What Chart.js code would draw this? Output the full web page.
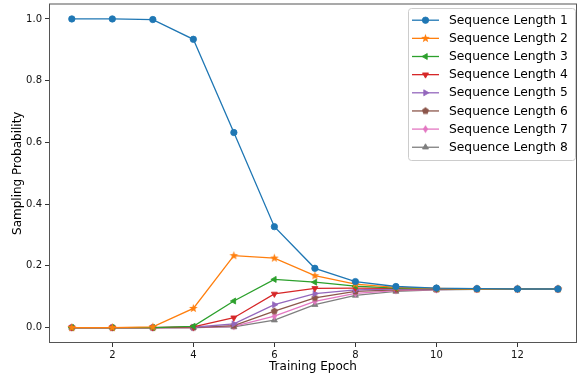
<!DOCTYPE html>
<html>
<head>
<meta charset="utf-8">
<script src="https://cdn.jsdelivr.net/npm/chart.js@4/dist/chart.umd.min.js"></script>
<style>
  html, body { margin: 0; padding: 0; background: #fff; }
  #wrap { width: 578px; height: 378px; position: relative; }
</style>
</head>
<body>
<div id="wrap"><canvas id="chart"></canvas></div>
<script>
// datos
const epochs = [1, 2, 3, 4, 5, 6, 7, 8, 9, 10, 11, 12, 13];
const seqLen1 = [1.0, 1.0, 0.998, 0.934, 0.632, 0.327, 0.192, 0.149, 0.133, 0.128, 0.126, 0.125, 0.125];
const seqLen2 = [0.0, 0.0, 0.002, 0.062, 0.233, 0.225, 0.168, 0.141, 0.130, 0.127, 0.125, 0.125, 0.125];
const seqLen3 = [0.0, 0.0, 0.0, 0.004, 0.086, 0.156, 0.147, 0.134, 0.128, 0.126, 0.125, 0.125, 0.125];
const seqLen4 = [0.0, 0.0, 0.0, 0.002, 0.032, 0.109, 0.127, 0.128, 0.127, 0.126, 0.125, 0.125, 0.125];
const seqLen5 = [0.0, 0.0, 0.0, 0.001, 0.012, 0.074, 0.110, 0.122, 0.125, 0.125, 0.125, 0.125, 0.125];
const seqLen6 = [0.0, 0.0, 0.0, 0.0, 0.006, 0.053, 0.096, 0.117, 0.122, 0.124, 0.125, 0.125, 0.125];
const seqLen7 = [0.0, 0.0, 0.0, 0.0, 0.004, 0.037, 0.085, 0.111, 0.120, 0.123, 0.125, 0.125, 0.125];
const seqLen8 = [0.0, 0.0, 0.0, 0.0, 0.002, 0.024, 0.074, 0.104, 0.117, 0.122, 0.124, 0.125, 0.125];
const seriesNames = ['Sequence Length 1', 'Sequence Length 2', 'Sequence Length 3', 'Sequence Length 4',
                     'Sequence Length 5', 'Sequence Length 6', 'Sequence Length 7', 'Sequence Length 8'];
const xTicks = [2, 4, 6, 8, 10, 12];
const yTicks = [0.0, 0.2, 0.4, 0.6, 0.8, 1.0];

const COLORS = ['#1f77b4', '#ff7f0e', '#2ca02c', '#d62728', '#9467bd', '#8c564b', '#e377c2', '#7f7f7f'];
const FONT = "'DejaVu Sans', 'Liberation Sans', sans-serif";

// marcadores que Chart.js no trae (estrella, pentagono, diamante fino)
function markerCanvas(color, kind) {
    const c = document.createElement('canvas');
    c.width = 11; c.height = 11;
    const ctx = c.getContext('2d');
    const cx = 5.5, cy = 5.5;
    ctx.fillStyle = color;
    ctx.beginPath();
    if (kind === 'star') {
        for (let i = 0; i < 10; i++) {
            const r = i % 2 === 0 ? 4.6 : 1.9;
            const a = -Math.PI / 2 + i * Math.PI / 5;
            const px = cx + r * Math.cos(a), py = cy + r * Math.sin(a);
            i === 0 ? ctx.moveTo(px, py) : ctx.lineTo(px, py);
        }
    } else if (kind === 'pentagon') {
        for (let i = 0; i < 5; i++) {
            const a = -Math.PI / 2 + i * 2 * Math.PI / 5;
            const px = cx + 3.7 * Math.cos(a), py = cy + 3.7 * Math.sin(a);
            i === 0 ? ctx.moveTo(px, py) : ctx.lineTo(px, py);
        }
    } else if (kind === 'thinDiamond') {
        ctx.moveTo(cx, cy - 4);
        ctx.lineTo(cx + 2.6, cy);
        ctx.lineTo(cx, cy + 4);
        ctx.lineTo(cx - 2.6, cy);
    }
    ctx.closePath();
    ctx.fill();
    return c;
}

const markers = [
    { style: 'circle', radius: 3.2, rotation: 0 },
    { style: markerCanvas(COLORS[1], 'star'), radius: 4, rotation: 0 },
    { style: 'triangle', radius: 3.5, rotation: 270 },
    { style: 'triangle', radius: 3.5, rotation: 180 },
    { style: 'triangle', radius: 3.5, rotation: 90 },
    { style: markerCanvas(COLORS[5], 'pentagon'), radius: 4, rotation: 0 },
    { style: markerCanvas(COLORS[6], 'thinDiamond'), radius: 4, rotation: 0 },
    { style: 'triangle', radius: 3.5, rotation: 0 }
];

const allSeries = [seqLen1, seqLen2, seqLen3, seqLen4, seqLen5, seqLen6, seqLen7, seqLen8];

const datasets = allSeries.map((serie, i) => ({
    label: seriesNames[i],
    data: serie.map((v, k) => ({ x: epochs[k], y: v })),
    borderColor: COLORS[i],
    backgroundColor: COLORS[i],
    borderWidth: 1.3,
    tension: 0,
    pointStyle: markers[i].style,
    pointRadius: markers[i].radius,
    pointRotation: markers[i].rotation,
    pointBackgroundColor: COLORS[i],
    pointBorderColor: COLORS[i],
    pointBorderWidth: 0.8,
    pointHoverRadius: markers[i].radius
}));

// quitar el relleno automatico que Chart.js deja para las etiquetas
function sinPadding(s) {
    s.paddingTop = 0;
    s.paddingBottom = 0;
    s.paddingLeft = 0;
    s.paddingRight = 0;
}

// marco de los ejes + leyenda dentro del area
const framePlugin = {
    id: 'frameAndLegend',
    afterDatasetsDraw(chart) {
        const { ctx, chartArea } = chart;
        ctx.save();
        ctx.strokeStyle = '#555';
        ctx.lineWidth = 1;
        ctx.strokeRect(chartArea.left + 0.5, chartArea.top + 0.5,
                       chartArea.right - chartArea.left - 1, chartArea.bottom - chartArea.top - 1);

        // leyenda
        const boxRight = chartArea.right - 2;
        const boxLeft = boxRight - 167;
        const boxTop = chartArea.top + 4.5;
        const rowH = 18.15;
        const boxH = 152;
        ctx.fillStyle = 'rgba(255,255,255,0.8)';
        ctx.strokeStyle = '#cccccc';
        ctx.beginPath();
        if (ctx.roundRect) ctx.roundRect(boxLeft + 0.5, boxTop + 0.5, boxRight - boxLeft, boxH, 3);
        else ctx.rect(boxLeft + 0.5, boxTop + 0.5, boxRight - boxLeft, boxH);
        ctx.fill();
        ctx.stroke();

        ctx.font = '12.3px ' + FONT;
        ctx.textBaseline = 'middle';
        chart.data.datasets.forEach((ds, i) => {
            const y = boxTop + 12.2 + i * rowH;
            const x0 = boxLeft + 4;
            ctx.strokeStyle = ds.borderColor;
            ctx.lineWidth = 1.3;
            ctx.beginPath();
            ctx.moveTo(x0, y);
            ctx.lineTo(x0 + 27, y);
            ctx.stroke();
            ctx.fillStyle = ds.borderColor;
            ctx.lineWidth = 0.8;
            if (Chart.helpers && Chart.helpers.drawPoint) {
                Chart.helpers.drawPoint(ctx, {
                    pointStyle: ds.pointStyle,
                    radius: ds.pointRadius,
                    rotation: ds.pointRotation,
                    borderWidth: 0.8
                }, x0 + 13.5, y);
            }
            ctx.fillStyle = '#000';
            ctx.fillText(ds.label, boxLeft + 41, y + 0.5);
        });
        ctx.restore();
    }
};

new Chart(document.getElementById('chart'), {
    type: 'line',
    data: { datasets: datasets },
    options: {
        responsive: true,
        maintainAspectRatio: false,
        animation: false,
        layout: { autoPadding: false, padding: { top: 3.5, right: 1, left: 0, bottom: 0 } },
        plugins: {
            legend: { display: false },
            tooltip: { enabled: false }
        },
        scales: {
            x: {
                type: 'linear',
                min: 0.437,
                max: 13.47,
                afterBuildTicks: s => { s.ticks = xTicks.map(v => ({ value: v })); },
                afterFit: s => { s.height = 35; sinPadding(s); },
                grid: { drawOnChartArea: false, drawTicks: true, tickLength: 4, color: '#333' },
                border: { display: false },
                ticks: {
                    color: '#111',
                    padding: 2,
                    maxRotation: 0,
                    font: { family: FONT, size: 10 },
                    callback: v => String(v)
                },
                title: {
                    display: true,
                    text: 'Training Epoch',
                    color: '#000',
                    font: { family: FONT, size: 12 },
                    padding: { top: 2, bottom: 4 }
                }
            },
            y: {
                min: -0.05,
                max: 1.05,
                afterBuildTicks: s => { s.ticks = yTicks.map(v => ({ value: v })); },
                afterFit: s => { s.width = 49; sinPadding(s); },
                grid: { drawOnChartArea: false, drawTicks: true, tickLength: 4, color: '#333' },
                border: { display: false },
                ticks: {
                    color: '#111',
                    padding: 3,
                    font: { family: FONT, size: 10 },
                    callback: v => Number(v).toFixed(1)
                },
                title: {
                    display: true,
                    text: 'Sampling Probability',
                    color: '#000',
                    font: { family: FONT, size: 12 },
                    padding: { top: 11, bottom: 4 }
                }
            }
        }
    },
    plugins: [framePlugin]
});
</script>
</body>
</html>
